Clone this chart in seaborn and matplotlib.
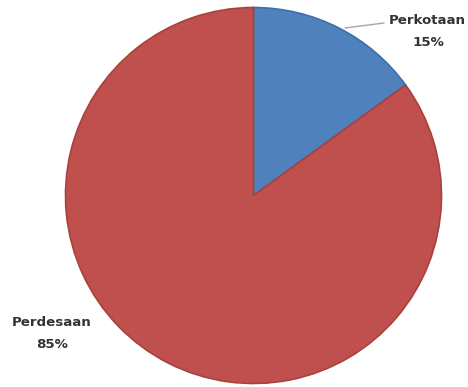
import matplotlib
matplotlib.use("Agg")
import matplotlib.pyplot as plt
import seaborn as sns

categories = ["Perkotaan", "Perdesaan"]
shares = [15, 85]
slice_colors = ["#4F81BD", "#C0504D"]
edge_colors = ["#3F6FA8", "#A8413E"]

sns.set_theme(style="white")
plt.rcParams["font.family"] = ["DejaVu Sans"]

W, H = 468, 387
fig = plt.figure(figsize=(W / 100, H / 100), dpi=100)
ax = fig.add_axes([0, 0, 1, 1])

cx, cy, r = 253.5, H - 195.5, 188
wedges, _ = ax.pie(shares, startangle=90, counterclock=False, center=(cx, cy),
                   radius=r, colors=slice_colors, frame=True,
                   wedgeprops=dict(linewidth=1.2))
for w, ec in zip(wedges, edge_colors):
    w.set_edgecolor(ec)
ax.set_xlim(0, W)
ax.set_ylim(0, H)
ax.set_aspect("equal")
ax.axis("off")

txt = dict(ha="center", va="center", fontsize=9.6, fontweight="bold", color="#333333")
ax.text(427, H - 20, categories[0], **txt)
ax.text(428, H - 43, f"{shares[0]}%", **txt)
ax.text(52, H - 323, categories[1], **txt)
ax.text(52, H - 345, f"{shares[1]}%", **txt)
ax.plot([345, 384], [H - 28, H - 23], color="#A6A6A6", lw=1)

fig.savefig("out.png", dpi=100, facecolor="white")
